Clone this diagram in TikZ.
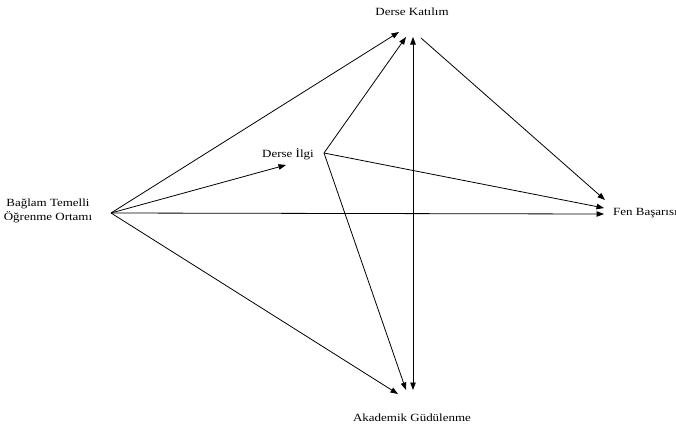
\documentclass[tikz,border=0pt]{standalone}
\usepackage{fontspec}
\setmainfont{Liberation Serif}[FakeStretch=1.18]
\usetikzlibrary{arrows.meta}
\begin{document}
\begin{tikzpicture}[x=1pt,y=-1pt,
  lbl/.style={font=\fontsize{11}{13.5}\selectfont, inner sep=0pt, align=center},
  conn/.style={line width=0.8pt, -{Triangle[length=7.5pt,width=5.5pt]}},
  conn2/.style={line width=0.8pt, {Triangle[length=7.5pt,width=5.5pt]}-{Triangle[length=7.5pt,width=5.5pt]}},
  plain/.style={line width=0.8pt}]
\useasboundingbox (0,0) rectangle (676,431);
% labels
\node[lbl] (katilim) at (412,12) {Derse Katılım};
\node[lbl] (ilgi) at (288,154) {Derse İlgi};
\node[lbl] (baglam) at (48,211) {Bağlam Temelli\\Öğrenme Ortamı};
\node[lbl, anchor=west] (fen) at (613,213) {Fen Başarısı};
\node[lbl] (akademik) at (412,418) {Akademik Güdülenme};
% ports
\coordinate (bOut) at (111,213);
\coordinate (iOut) at (324,153);
\coordinate (iIn) at (286,165);
\coordinate (kIn1) at (399,32);
\coordinate (kIn2) at (406,37);
\coordinate (kIn3) at (413,37);
\coordinate (kOut) at (421,38);
\coordinate (fIn1) at (605,200);
\coordinate (fIn2) at (604,208);
\coordinate (fIn3) at (604,214);
\coordinate (aIn1) at (398,394);
\coordinate (aIn2) at (406,390);
\coordinate (aIn3) at (413,390);
% connectors
\draw[conn] (bOut) -- (kIn1);
\draw[conn] (bOut) -- (iIn);
\draw[conn] (bOut) -- (fIn3);
\draw[conn] (bOut) -- (aIn1);
\draw[conn] (iOut) -- (kIn2);
\draw[conn] (iOut) -- (fIn2);
\draw[conn] (iOut) -- (aIn2);
\draw[conn2] (aIn3) -- (kIn3);
\draw[conn] (kOut) -- (fIn1);
\end{tikzpicture}
\end{document}
